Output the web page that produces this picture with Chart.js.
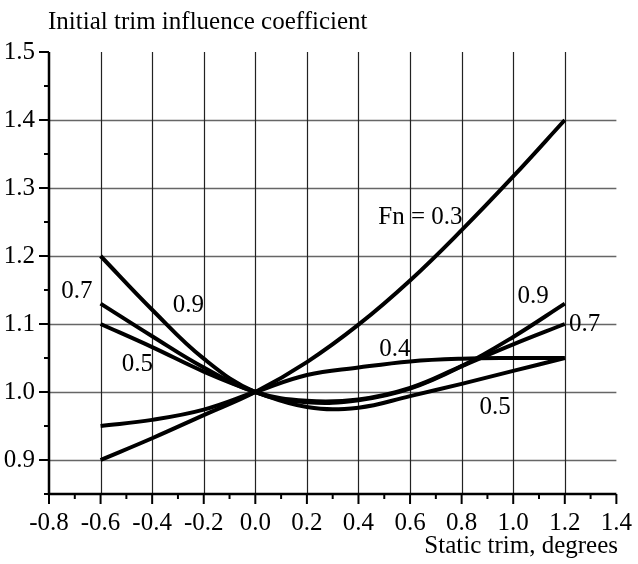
<!DOCTYPE html>
<html>
<head>
<meta charset="utf-8">
<script src="https://cdn.jsdelivr.net/npm/chart.js@4/dist/chart.umd.min.js"></script>
<style>
  html, body { margin: 0; padding: 0; background: #fff; }
  canvas { display: block; }
</style>
</head>
<body>
<canvas id="chart" width="638" height="564"></canvas>
<script>
// axis ticks
const xTicks = [-0.8, -0.6, -0.4, -0.2, 0.0, 0.2, 0.4, 0.6, 0.8, 1.0, 1.2, 1.4];
const yTicks = [0.9, 1.0, 1.1, 1.2, 1.3, 1.4, 1.5];
const xGrid = [-0.6, -0.4, -0.2, 0.0, 0.2, 0.4, 0.6, 0.8, 1.0, 1.2];
const yGrid = [0.9, 1.0, 1.1, 1.2, 1.3, 1.4];

// static trim, degrees
const trim = [-0.6, -0.4, -0.2, 0.0, 0.2, 0.4, 0.6, 0.8, 1.0, 1.2];

// influence coefficient per Froude number
const fn03 = [0.900, 0.932, 0.966, 1.000, 1.044, 1.099, 1.164, 1.238, 1.317, 1.400];
const fn04 = [0.950, 0.959, 0.974, 1.000, 1.025, 1.036, 1.045, 1.049, 1.050, 1.050];
const fn05 = [1.100, 1.066, 1.030, 1.000, 0.978, 0.977, 0.994, 1.012, 1.031, 1.050];
const fn07 = [1.130, 1.082, 1.036, 1.000, 0.987, 0.989, 1.006, 1.038, 1.070, 1.100];
const fn09 = [1.200, 1.121, 1.049, 1.000, 0.985, 0.988, 1.005, 1.038, 1.081, 1.130];

// curve labels (anchor in data units)
const curveText = ["Fn = 0.3", "0.9", "0.7", "0.4", "0.5", "0.7", "0.9", "0.5"];
const curveX = [0.64, 1.077, 1.277, 0.541, 0.93, -0.692, -0.26, -0.457];
const curveY = [1.257, 1.14, 1.099, 1.062, 0.978, 1.148, 1.128, 1.041];

const FONT = "Liberation Serif";
const FSIZE = 25;

function series(values) {
  return {
    data: trim.map((x, i) => ({ x: x, y: values[i] })),
    showLine: true,
    borderColor: "#000",
    borderWidth: 4,
    pointRadius: 0,
    tension: 0.4,
    fill: false,
    borderCapStyle: "butt"
  };
}

const framePlugin = {
  id: "frame",
  beforeDatasetsDraw(chart) {
    const { ctx, scales: { x, y } } = chart;
    ctx.save();
    // horizontal grid
    ctx.strokeStyle = "#666";
    ctx.lineWidth = 1.6;
    yGrid.forEach(v => {
      const py = Math.round(y.getPixelForValue(v)) + 0.5;
      ctx.beginPath();
      ctx.moveTo(x.getPixelForValue(-0.8), py);
      ctx.lineTo(x.getPixelForValue(1.4), py);
      ctx.stroke();
    });
    // vertical grid
    ctx.strokeStyle = "#222";
    ctx.lineWidth = 1.2;
    xGrid.forEach(v => {
      const px = Math.round(x.getPixelForValue(v)) + 0.5;
      ctx.beginPath();
      ctx.moveTo(px, y.getPixelForValue(1.5));
      ctx.lineTo(px, y.getPixelForValue(0.85));
      ctx.stroke();
    });
    ctx.restore();
  },
  afterDraw(chart) {
    const { ctx, scales: { x, y } } = chart;
    const left = x.getPixelForValue(-0.8);
    const right = x.getPixelForValue(1.4);
    const top = y.getPixelForValue(1.5);
    const bottom = y.getPixelForValue(0.85);
    ctx.save();
    ctx.strokeStyle = "#000";
    ctx.lineWidth = 2.5;
    ctx.beginPath();
    ctx.moveTo(left, top);
    ctx.lineTo(left, bottom);
    ctx.lineTo(right, bottom);
    ctx.stroke();

    // y ticks, major and minor
    ctx.lineWidth = 2;
    yTicks.forEach(v => {
      const py = y.getPixelForValue(v);
      ctx.beginPath();
      ctx.moveTo(left - 10, py);
      ctx.lineTo(left, py);
      ctx.stroke();
      const pm = y.getPixelForValue(v - 0.05);
      ctx.beginPath();
      ctx.moveTo(left - 5, pm);
      ctx.lineTo(left, pm);
      ctx.stroke();
    });
    // x ticks
    xTicks.forEach((v, i) => {
      const px = x.getPixelForValue(v);
      ctx.beginPath();
      ctx.moveTo(px, bottom);
      ctx.lineTo(px, bottom + 10);
      ctx.stroke();
      if (i < xTicks.length - 1) {
        const pm = x.getPixelForValue(v + 0.1);
        ctx.beginPath();
        ctx.moveTo(pm, bottom);
        ctx.lineTo(pm, bottom + 5);
        ctx.stroke();
      }
    });

    // curve labels
    ctx.fillStyle = "#000";
    ctx.font = FSIZE + "px '" + FONT + "'";
    ctx.textAlign = "center";
    ctx.textBaseline = "middle";
    curveText.forEach((t, i) => {
      ctx.fillText(t, x.getPixelForValue(curveX[i]), y.getPixelForValue(curveY[i]));
    });

    // axis titles
    ctx.textAlign = "left";
    ctx.fillText("Initial trim influence coefficient", 48, 22);
    ctx.textAlign = "right";
    ctx.fillText("Static trim, degrees", 618, 546);
    ctx.restore();
  }
};

const ctx = document.getElementById("chart").getContext("2d");
new Chart(ctx, {
  type: "scatter",
  data: {
    datasets: [series(fn03), series(fn04), series(fn05), series(fn07), series(fn09)]
  },
  options: {
    responsive: false,
    animation: false,
    layout: { padding: { left: 0, right: 18, top: 52, bottom: 0 } },
    plugins: { legend: { display: false }, tooltip: { enabled: false } },
    scales: {
      x: {
        type: "linear",
        min: -0.8,
        max: 1.4,
        afterBuildTicks: s => { s.ticks = xTicks.map(v => ({ value: v })); },
        afterFit: s => { s.height = 70; },
        grid: { display: false },
        border: { display: false },
        ticks: {
          padding: 6,
          color: "#000",
          maxRotation: 0,
          autoSkip: false,
          font: { family: FONT, size: FSIZE },
          callback: v => Number(v).toFixed(1)
        }
      },
      y: {
        type: "linear",
        min: 0.85,
        max: 1.5,
        afterBuildTicks: s => { s.ticks = yTicks.map(v => ({ value: v })); },
        afterFit: s => { s.width = 49; },
        grid: { display: false },
        border: { display: false },
        ticks: {
          padding: 6,
          color: "#000",
          autoSkip: false,
          font: { family: FONT, size: FSIZE },
          callback: v => Number(v).toFixed(1)
        }
      }
    }
  },
  plugins: [framePlugin]
});
</script>
</body>
</html>
